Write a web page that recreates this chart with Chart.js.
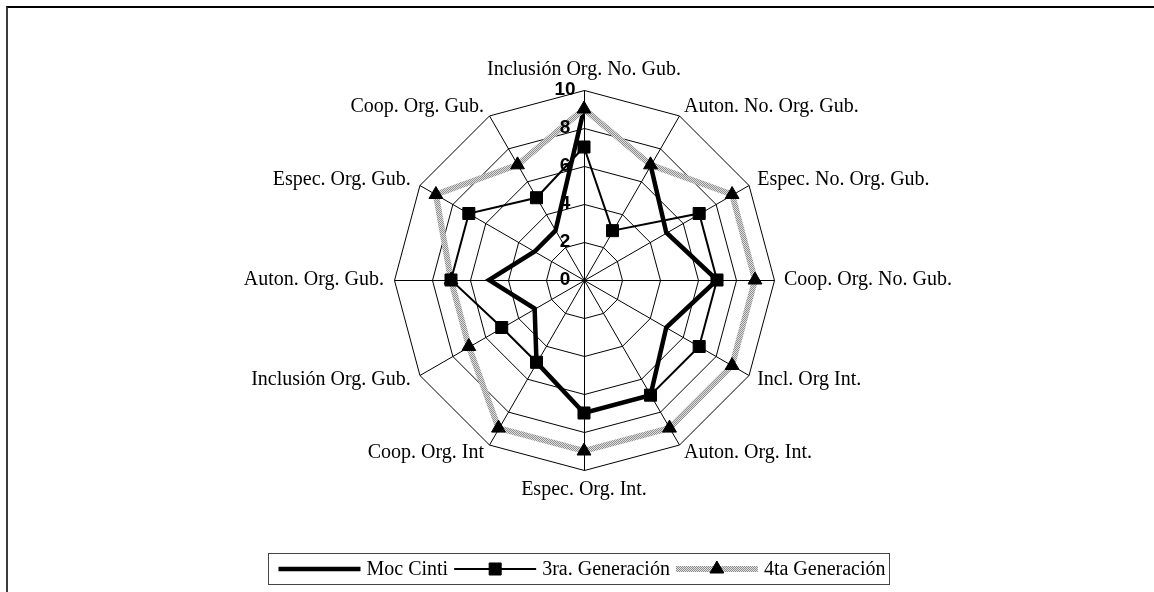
<!DOCTYPE html>
<html>
<head>
<meta charset="utf-8">
<script src="https://cdn.jsdelivr.net/npm/chart.js@4.4.0/dist/chart.umd.min.js"></script>
<style>
    html, body { margin: 0; padding: 0; background: #fff; }
    body { width: 1154px; height: 592px; position: relative; overflow: hidden; }
    #marco { position: absolute; left: 6px; top: 6px; width: 1160px; height: 600px;
             border-left: 2px solid #3c3c3c; border-top: 2px solid #000; }
    #grafica { position: absolute; left: 0; top: 0; }
</style>
</head>
<body>
<div id="marco"></div>
<canvas id="grafica" width="1154" height="592"></canvas>
<script>
// ==================== DATOS ====================
const categorias = [
    'Inclusión Org. No. Gub.', 'Auton. No. Org. Gub.', 'Espec. No. Org. Gub.',
    'Coop. Org. No. Gub.', 'Incl. Org Int.', 'Auton. Org. Int.', 'Espec. Org. Int.',
    'Coop. Org. Int', 'Inclusión Org. Gub.', 'Auton. Org. Gub.', 'Espec. Org. Gub.',
    'Coop. Org. Gub.'
];
const mocCinti = [9, 7, 5, 7, 5, 7, 7, 5, 3, 5, 3, 3];
const terceraGen = [7, 3, 7, 7, 7, 7, 7, 5, 5, 7, 7, 5];
const cuartaGen = [9, 7, 9, 9, 9, 9, 9, 9, 7, 7, 9, 7];
const ticksEscala = [0, 2, 4, 6, 8, 10];

const fuenteTexto = '20px "Liberation Serif", "Times New Roman", serif';

// patrón punteado gris para la 4ta generación
function crearPatron() {
    const c = document.createElement('canvas');
    c.width = 2; c.height = 2;
    const g = c.getContext('2d');
    g.fillStyle = '#dedede'; g.fillRect(0, 0, 2, 2);
    g.fillStyle = '#8f8f8f'; g.fillRect(0, 0, 1, 1); g.fillRect(1, 1, 1, 1);
    return g.createPattern(c, 'repeat');
}

// medio píxel sólo para la rejilla, así sale nítida
const nitidoPlugin = {
    id: 'nitido',
    beforeDraw(chart) { chart.ctx.save(); chart.ctx.translate(0.5, 0.5); },
    beforeDatasetsDraw(chart) { chart.ctx.restore(); }
};

// etiquetas de categorías y de la escala, al estilo Excel
const etiquetasPlugin = {
    id: 'etiquetas',
    afterDraw(chart) {
        const escala = chart.scales.r;
        const ctx = chart.ctx;
        const n = chart.data.labels.length;
        ctx.save();
        ctx.fillStyle = '#000';
        ctx.font = fuenteTexto;
        chart.data.labels.forEach(function(texto, i) {
            const p = escala.getPointPosition(i, escala.drawingArea + 10);
            const ang = Math.round(i * 360 / n);
            if (ang === 0) { ctx.textAlign = 'center'; ctx.textBaseline = 'bottom'; }
            else if (ang === 180) { ctx.textAlign = 'center'; ctx.textBaseline = 'top'; }
            else { ctx.textAlign = ang < 180 ? 'left' : 'right'; ctx.textBaseline = 'middle'; }
            ctx.fillText(texto, p.x, p.y);
        });
        ctx.font = 'bold 19px "Liberation Sans", Arial, sans-serif';
        ctx.textAlign = 'center';
        ctx.textBaseline = 'middle';
        escala.ticks.forEach(function(t) {
            const p = escala.getPointPositionForValue(0, t.value);
            ctx.fillText(String(t.value), p.x - 19, p.y);
        });
        ctx.restore();
    }
};

// leyenda en recuadro, con muestra de línea y marcador de cada serie
const leyendaPlugin = {
    id: 'leyendaExcel',
    afterDraw(chart) {
        const ctx = chart.ctx;
        const caja = { x: 268.5, y: 553.5, w: 621, h: 31 };
        const cy = caja.y + caja.h / 2;
        ctx.save();
        ctx.fillStyle = '#fff';
        ctx.fillRect(caja.x, caja.y, caja.w, caja.h);
        ctx.strokeStyle = '#444';
        ctx.lineWidth = 1;
        ctx.strokeRect(caja.x, caja.y, caja.w, caja.h);
        ctx.font = fuenteTexto;
        ctx.textBaseline = 'middle';
        ctx.textAlign = 'left';
        const muestra = 82, sep = 6;
        let x = caja.x + 10;
        chart.data.datasets.forEach(function(ds) {
            ctx.save();
            ctx.strokeStyle = ds.borderColor;
            ctx.lineWidth = ds.borderWidth;
            ctx.beginPath();
            ctx.moveTo(x, cy);
            ctx.lineTo(x + muestra, cy);
            ctx.stroke();
            ctx.restore();
            if (ds.pointRadius > 0) {
                ctx.fillStyle = '#000';
                ctx.strokeStyle = '#000';
                Chart.helpers.drawPoint(ctx, {
                    pointStyle: ds.pointStyle, radius: ds.pointRadius, borderWidth: 1
                }, x + muestra / 2, cy);
            }
            x += muestra + sep;
            ctx.fillStyle = '#000';
            ctx.fillText(ds.label, x, cy + 1);
            x += ctx.measureText(ds.label).width + sep;
        });
        ctx.restore();
    }
};

document.addEventListener('DOMContentLoaded', function() {
    const ctx = document.getElementById('grafica');
    new Chart(ctx, {
        type: 'radar',
        data: {
            labels: categorias,
            datasets: [{
                label: 'Moc Cinti',
                data: mocCinti,
                borderColor: '#000',
                borderWidth: 4.5,
                pointRadius: 0,
                fill: false,
                order: 3
            }, {
                label: '3ra. Generación',
                data: terceraGen,
                borderColor: '#000',
                borderWidth: 2,
                pointStyle: 'rect',
                pointRadius: 8.5,
                pointBackgroundColor: '#000',
                pointBorderColor: '#000',
                pointBorderWidth: 1,
                fill: false,
                order: 1
            }, {
                label: '4ta Generación',
                data: cuartaGen,
                borderColor: crearPatron(),
                borderWidth: 6,
                pointStyle: 'triangle',
                pointRadius: 8,
                pointBackgroundColor: '#000',
                pointBorderColor: '#000',
                pointBorderWidth: 1,
                fill: false,
                order: 2
            }]
        },
        options: {
            responsive: false,
            devicePixelRatio: 1,
            animation: false,
            clip: false,
            layout: { padding: { left: 394, right: 380, top: 90, bottom: 122 } },
            elements: { line: { tension: 0, borderJoinStyle: 'miter' } },
            plugins: { legend: { display: false }, tooltip: { enabled: false } },
            scales: {
                r: {
                    min: 0,
                    max: 10,
                    afterBuildTicks: function(s) {
                        s.ticks = ticksEscala.map(function(v) { return { value: v }; });
                    },
                    ticks: { display: false },
                    pointLabels: { display: false },
                    grid: { color: '#000', lineWidth: 1 },
                    angleLines: { color: '#000', lineWidth: 1 }
                }
            }
        },
        plugins: [nitidoPlugin, etiquetasPlugin, leyendaPlugin]
    });
});
</script>
</body>
</html>
